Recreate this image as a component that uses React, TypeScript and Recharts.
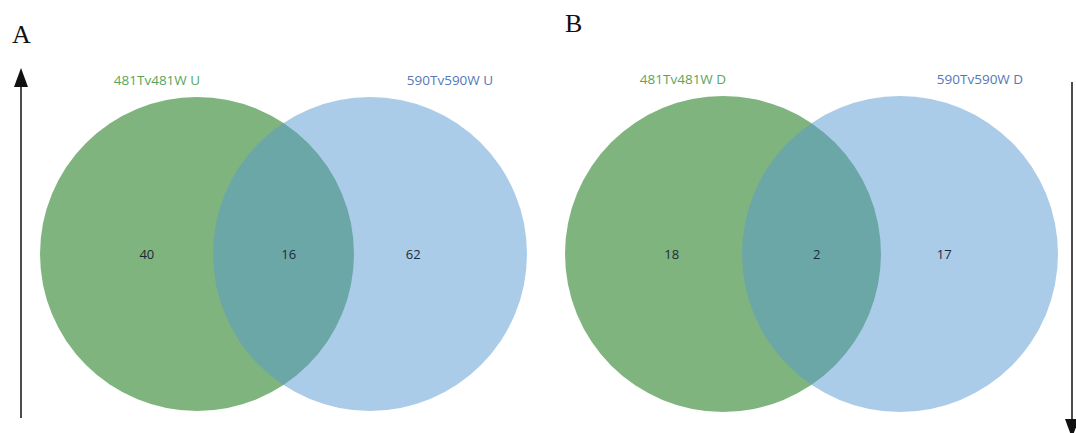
import { ScatterChart, Scatter, XAxis, YAxis } from 'recharts'

// set names (left circle, right circle) per panel
const setsUp = ['481Tv481W U', '590Tv590W U']
const setsDown = ['481Tv481W D', '590Tv590W D']

// region counts: left only, shared, right only
const countsUp = [40, 16, 62]
const countsDown = [18, 2, 17]

const panelTitles = ['A', 'B']

// layout, in axis units (0 = left circle centre, 1 = right circle centre)
const REGION_X = [-0.29, 0.53, 1.25]
const SET_FILL = ['#80b47e', 'rgba(87, 153, 209, 0.5)']
const SET_TEXT = ['#5aa55a', '#5577b8']
const LABEL_DX = [-40, 80]
const FONT = '"Open Sans", "Noto Sans", sans-serif'
const H = 433
const CENTER_Y = 254
const UNIT_Y = 154

type PanelProps = {
  sets: string[]
  counts: number[]
  left: number
  width: number
  c0: number // px from panel left to first circle centre
  gap: number // px between circle centres
  radius: number
}

function VennPanel({ sets, counts, left, width, c0, gap, radius }: PanelProps) {
  const circles = sets.map((name, i) => ({ x: i, y: 0, name, idx: i }))
  const regions = counts.map((value, i) => ({ x: REGION_X[i], y: 0, value }))
  const xDomain = [-c0 / gap, (width - c0) / gap]
  const yDomain = [-(H - CENTER_Y) / UNIT_Y, CENTER_Y / UNIT_Y]

  const drawCircle = (p: any) => {
    const i = p.payload.idx
    return (
      <g>
        <circle cx={p.cx} cy={p.cy} r={radius} fill={SET_FILL[i]} />
        <text
          x={p.cx + LABEL_DX[i]}
          y={p.cy - radius - 12}
          textAnchor="middle"
          fontFamily={FONT}
          fontSize={13.5}
          fill={SET_TEXT[i]}
        >
          {p.payload.name}
        </text>
      </g>
    )
  }

  const drawCount = (p: any) => (
    <text
      x={p.cx}
      y={p.cy}
      dy={5}
      textAnchor="middle"
      fontFamily={FONT}
      fontSize={13}
      fill="#1c2a38"
    >
      {p.payload.value}
    </text>
  )

  return (
    <div style={{ position: 'absolute', left, top: 0 }}>
      <ScatterChart width={width} height={H} margin={{ top: 0, right: 0, bottom: 0, left: 0 }}>
        <XAxis type="number" dataKey="x" domain={xDomain} hide />
        <YAxis type="number" dataKey="y" domain={yDomain} hide />
        <Scatter data={circles} shape={drawCircle} isAnimationActive={false} />
        <Scatter data={regions} shape={drawCount} isAnimationActive={false} />
      </ScatterChart>
    </div>
  )
}

export default function App() {
  return (
    <div style={{ position: 'absolute', left: 0, top: 0, width: 1076, height: H, background: '#fff', overflow: 'hidden' }}>
      <VennPanel sets={setsUp} counts={countsUp} left={0} width={540} c0={197} gap={173} radius={157} />
      <VennPanel sets={setsDown} counts={countsDown} left={540} width={536} c0={183} gap={177} radius={158} />
      <svg width={1076} height={H} style={{ position: 'absolute', left: 0, top: 0, pointerEvents: 'none' }}>
        <text x={12} y={43} fontFamily='"Liberation Serif", "Times New Roman", serif' fontSize={26} fill="#111">
          {panelTitles[0]}
        </text>
        <text x={565} y={32} fontFamily='"Liberation Serif", "Times New Roman", serif' fontSize={26} fill="#111">
          {panelTitles[1]}
        </text>
        {/* trend arrows */}
        <line x1={21} y1={85} x2={21} y2={418} stroke="#111" strokeWidth={1.5} />
        <polygon points="21,68 14,87 28,87" fill="#111" />
        <line x1={1072} y1={82} x2={1072} y2={421} stroke="#111" strokeWidth={1.5} />
        <polygon points="1065,419 1079,419 1072,438" fill="#111" />
      </svg>
    </div>
  )
}
